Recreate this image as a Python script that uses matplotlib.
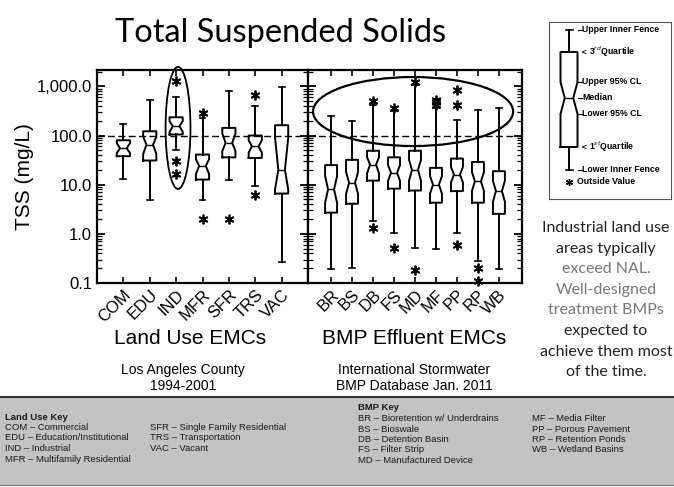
import matplotlib
matplotlib.use('Agg')
import matplotlib.pyplot as plt
import numpy as np
from matplotlib.patches import Ellipse, Rectangle
from matplotlib.lines import Line2D
from matplotlib.ticker import FixedLocator, LogLocator, NullFormatter

plt.rcParams['font.family'] = ['Liberation Sans', 'DejaVu Sans']

W, H = 674, 487

# --- land use EMCs (Los Angeles County), TSS mg/L
land_use = ['COM', 'EDU', 'IND', 'MFR', 'SFR', 'TRS', 'VAC']
lu_whislo = [13.3, 4.8, 50, 4.8, 12.7, 9.3, 0.27]
lu_q1 = [38, 31, 105, 12.7, 36, 35, 6.6]
lu_cilo = [44, 42, 119, 16.5, 48, 45, 8]
lu_med = [55, 65, 155, 24, 71, 60, 20]
lu_cihi = [70, 95, 196, 33, 110, 80, 90]
lu_q3 = [80, 122, 235, 41, 143, 100, 162]
lu_whishi = [170, 540, 610, 230, 820, 394, 960]
lu_fliers = [[], [], [1270, 31, 16.5], [290, 2.0], [2.0], [680, 6.1], []]

# --- BMP effluent EMCs (International Stormwater BMP Database)
bmp = ['BR', 'BS', 'DB', 'FS', 'MD', 'MF', 'PP', 'RP', 'WB']
bmp_whislo = [0.19, 0.2, 1.8, 1.05, 0.52, 0.5, 1.05, 0.28, 0.19]
bmp_q1 = [2.7, 4.1, 12.1, 8.3, 7.6, 4.3, 7.4, 4.3, 2.55]
bmp_cilo = [4.3, 6.5, 17, 12, 12, 6.5, 11, 7.5, 4.5]
bmp_med = [8.0, 10.9, 25.7, 17.4, 20, 10, 16, 11.7, 7.4]
bmp_cihi = [15, 18, 36, 25, 32, 15, 23, 18, 12]
bmp_q3 = [25, 32, 49, 36, 49, 22, 34, 29, 18.8]
bmp_whishi = [247, 201, 420, 312, 1050, 365, 211, 337, 365]
bmp_fliers = [[], [], [500, 1.32], [365, 0.52], [1200, 0.18], [540, 480, 426],
              [861, 413, 0.58], [0.2, 0.11], []]

nal = 100.0
yticks = [0.1, 1, 10, 100, 1000]
ytick_labels = ['0.1', '1.0', '10.0', '100.0', '1,000.0']

# legend schematic (arbitrary units, top = small)
leg_stats = dict(whishi=30, q3=52, cihi=82, med=98, cilo=114, q1=147, whislo=170, fliers=[182])
leg_labels = [('whishi', 'Upper Inner Fence'), ('q3', r'3$^{rd}$Quartile'),
              ('cihi', 'Upper 95% CL'), ('med', 'Median'), ('cilo', 'Lower 95% CL'),
              ('q1', r'1$^{st}$Quartile'), ('whislo', 'Lower Inner Fence')]

note_lines = ['Industrial land use', 'areas typically', 'exceed NAL.', 'Well-designed',
              'treatment BMPs', 'expected to', 'achieve them most', 'of the time.']
note_gray = [False, False, True, True, True, False, False, False]

lu_key = ['COM \u2013 Commercial', 'EDU \u2013 Education/Institutional', 'IND \u2013 Industrial',
          'MFR \u2013 Multifamily Residential']
lu_key2 = ['SFR \u2013 Single Family Residential', 'TRS \u2013 Transportation', 'VAC \u2013 Vacant']
bmp_key = ['BR \u2013 Bioretention w/ Underdrains', 'BS \u2013 Bioswale', 'DB \u2013 Detention Basin',
           'FS \u2013 Filter Strip', 'MD \u2013 Manufactured Device']
bmp_key2 = ['MF \u2013 Media Filter', 'PP \u2013 Porous Pavement', 'RP \u2013 Retention Ponds',
            'WB \u2013 Wetland Basins']


def make_stats(lo, q1, cilo, med, cihi, q3, hi, fl):
    out = []
    for i in range(len(lo)):
        out.append(dict(whislo=lo[i], q1=q1[i], cilo=cilo[i], med=med[i], cihi=cihi[i],
                        q3=q3[i], whishi=hi[i], fliers=fl[i]))
    return out


def px(x, y):
    return x / W, 1 - y / H


fig = plt.figure(figsize=(W / 100, H / 100), dpi=100)

# bottom key band
fig.patches.append(Rectangle(px(0, 485), 1, (485 - 397) / H, transform=fig.transFigure,
                             fc='#c3c3c3', ec='none', zorder=0))
fig.add_artist(Line2D([0, 1], [1 - 397 / H] * 2, color='#333333', lw=1.5))
fig.add_artist(Line2D([0, 1], [1 - 485 / H] * 2, color='#777777', lw=0.8))

asterisk = (6, 2, 0)
box_kw = dict(shownotches=True, showcaps=True, patch_artist=False,
              boxprops=dict(color='black', lw=1.4),
              whiskerprops=dict(color='black', lw=1.4),
              capprops=dict(color='black', lw=1.2),
              medianprops=dict(color='black', lw=1.0),
              flierprops=dict(marker=asterisk, markersize=7, markeredgewidth=1.3,
                              markeredgecolor='black', linestyle='none'))

ax1 = fig.add_axes([97 / W, 1 - 283 / H, 211 / W, 213 / H])
ax2 = fig.add_axes([308 / W, 1 - 283 / H, 214 / W, 213 / H])

groups = [(ax1, land_use, make_stats(lu_whislo, lu_q1, lu_cilo, lu_med, lu_cihi, lu_q3,
                                     lu_whishi, lu_fliers), 0.5, (0, 8)),
          (ax2, bmp, make_stats(bmp_whislo, bmp_q1, bmp_cilo, bmp_med, bmp_cihi, bmp_q3,
                                bmp_whishi, bmp_fliers), 0.57, (-0.1, 10.1))]

for ax, cats, stats, wd, xl in groups:
    ax.set_yscale('log')
    pos = np.arange(1, len(cats) + 1)
    ax.bxp(stats, positions=pos, widths=wd, capwidths=wd * 0.45, manage_ticks=False, **box_kw)
    for fl in ax.lines:
        fl.set_clip_on(False)
    ax.axhline(nal, color='black', lw=1.0, ls=(0, (5, 2.5)), zorder=0)
    ax.set_xlim(*xl)
    ax.set_ylim(0.1, 2150)
    ax.set_xticks(pos)
    ax.set_xticklabels(cats, rotation=45, ha='right', va='top', rotation_mode='anchor',
                       fontsize=12)
    ax.yaxis.set_major_locator(FixedLocator(yticks))
    ax.yaxis.set_minor_locator(LogLocator(base=10, subs=np.arange(2, 10), numticks=20))
    ax.yaxis.set_minor_formatter(NullFormatter())
    ax.tick_params(axis='y', which='both', direction='in', left=True, right=True)
    ax.tick_params(axis='y', which='major', length=6, width=1.3)
    ax.tick_params(axis='y', which='minor', length=3.5, width=0.9)
    ax.tick_params(axis='x', which='both', direction='in', top=True, bottom=True,
                   length=4, width=1.2, pad=3)
    for s in ax.spines.values():
        s.set_linewidth(1.6)

ax1.set_yticklabels(ytick_labels, fontsize=12)
ax1.set_ylabel('TSS (mg/L)', fontsize=15, labelpad=2)
ax2.tick_params(axis='y', which='both', labelleft=False)

# ellipses highlighting IND and the BMP upper tails
ax1.add_patch(Ellipse((0.384, 0.728), 0.118, 0.573, transform=ax1.transAxes,
                      fill=False, ec='black', lw=1.3, clip_on=False))
ax2.add_patch(Ellipse((0.491, 0.805), 0.935, 0.324, transform=ax2.transAxes,
                      fill=False, ec='black', lw=1.6, clip_on=False))

# group captions
fig.text(*px(190, 338), 'Land Use EMCs', fontsize=15, ha='center', va='center')
fig.text(*px(414, 338), 'BMP Effluent EMCs', fontsize=15, ha='center', va='center')
fig.text(*px(183, 378), 'Los Angeles County\n1994-2001', fontsize=10, ha='center',
         va='center', linespacing=1.1)
fig.text(*px(414, 378), 'International Stormwater\nBMP Database Jan. 2011', fontsize=10,
         ha='center', va='center', linespacing=1.1)

fig.text(*px(281, 33), 'Total Suspended Solids', fontsize=23.5, ha='center', va='center',
         family=['Lato', 'DejaVu Sans'])

# legend schematic
axl = fig.add_axes([549 / W, 1 - 199 / H, 122 / W, 177 / H])
axl.set_xlim(549, 671)
axl.set_ylim(199, 22)
leg_kw = dict(box_kw)
leg_kw['flierprops'] = dict(marker=asterisk, markersize=5, markeredgewidth=1.0,
                            markeredgecolor='black', linestyle='none')
axl.bxp([leg_stats], positions=[569], widths=[17], capwidths=[7], manage_ticks=False, **leg_kw)
axl.set_xticks([])
axl.set_yticks([])
for s in axl.spines.values():
    s.set_linewidth(0.8)
    s.set_color('#555555')
for key, lab in leg_labels:
    yv = leg_stats[key]
    if 'Quartile' in lab:
        axl.annotate(lab, xy=(579, yv), xytext=(589, yv), fontsize=6.3, fontweight='bold',
                     va='center', arrowprops=dict(arrowstyle='->', lw=0.6))
    else:
        axl.plot([578, 582], [yv, yv], color='black', lw=0.8)
        axl.text(582, yv, lab, fontsize=6.3, fontweight='bold', va='center')
axl.text(577, leg_stats['fliers'][0], 'Outside Value', fontsize=6.3, fontweight='bold',
         va='center')

# note on the right
for i, line in enumerate(note_lines):
    fig.text(*px(606, 228 + i * 20.6), line, fontsize=11.5, ha='center', va='center',
             color='#777777' if note_gray[i] else '#222222', family=['Lato', 'DejaVu Sans'])

# key band texts
kf = dict(fontsize=6.8, va='center', color='#1a1a1a')
step = 10.5
fig.text(*px(5, 417), 'Land Use Key', fontweight='bold', **kf)
for i, t in enumerate(lu_key):
    fig.text(*px(5, 417 + (i + 1) * step), t, **kf)
for i, t in enumerate(lu_key2):
    fig.text(*px(150, 417 + (i + 1) * step), t, **kf)
fig.text(*px(358, 408), 'BMP Key', fontweight='bold', **kf)
for i, t in enumerate(bmp_key):
    fig.text(*px(358, 408 + (i + 1) * step), t, **kf)
for i, t in enumerate(bmp_key2):
    fig.text(*px(532, 408 + (i + 1) * step), t, **kf)

fig.savefig('out.png', dpi=100)
